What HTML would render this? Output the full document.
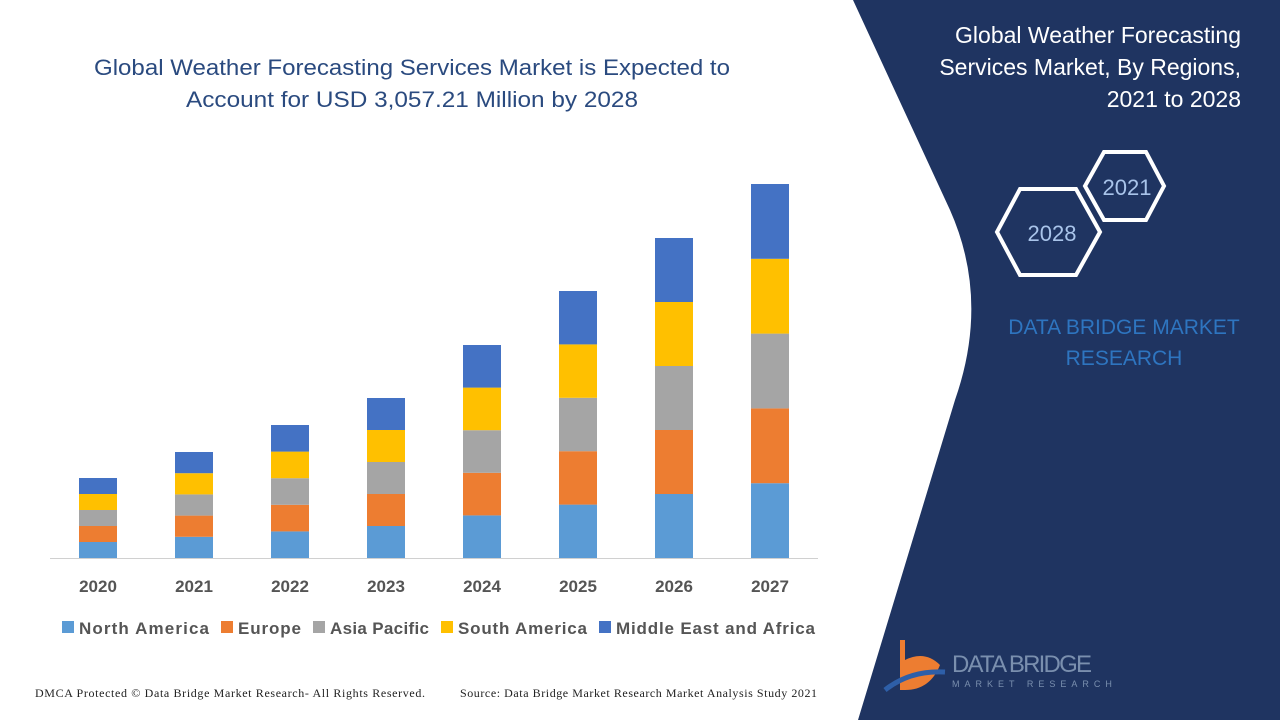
<!DOCTYPE html>
<html><head><meta charset="utf-8"><style>
body{margin:0;width:1280px;height:720px;overflow:hidden;background:#fff;font-family:"Liberation Sans",sans-serif}
</style></head><body>
<svg width="1280" height="720" xmlns="http://www.w3.org/2000/svg" style="position:absolute;left:0;top:0">
<rect width="1280" height="720" fill="#fff"/>
<path d="M853,0 L950,210 Q990,300 955,400 L858,720 L1280,720 L1280,0 Z" fill="#1f3461"/>
<g font-family="Liberation Sans, sans-serif">
<text x="412" y="75" text-anchor="middle" font-size="22" fill="#2a4a7f" textLength="636" lengthAdjust="spacingAndGlyphs">Global Weather Forecasting Services Market is Expected to</text>
<text x="412" y="107" text-anchor="middle" font-size="22" fill="#2a4a7f" textLength="452" lengthAdjust="spacingAndGlyphs">Account for USD 3,057.21 Million by 2028</text>
<line x1="50" y1="558.5" x2="818" y2="558.5" stroke="#d0d0d0"/>

<g>
<rect x="79" y="542" width="38" height="16" fill="#5b9bd5"/><rect x="79" y="526" width="38" height="16" fill="#ed7d31"/><rect x="79" y="510" width="38" height="16" fill="#a5a5a5"/><rect x="79" y="494" width="38" height="16" fill="#ffc000"/><rect x="79" y="478" width="38" height="16" fill="#4472c4"/>
<rect x="175" y="536.8" width="38" height="21.2" fill="#5b9bd5"/><rect x="175" y="515.6" width="38" height="21.2" fill="#ed7d31"/><rect x="175" y="494.4" width="38" height="21.2" fill="#a5a5a5"/><rect x="175" y="473.2" width="38" height="21.2" fill="#ffc000"/><rect x="175" y="452" width="38" height="21.2" fill="#4472c4"/>
<rect x="271" y="531.4" width="38" height="26.6" fill="#5b9bd5"/><rect x="271" y="504.8" width="38" height="26.6" fill="#ed7d31"/><rect x="271" y="478.2" width="38" height="26.6" fill="#a5a5a5"/><rect x="271" y="451.6" width="38" height="26.6" fill="#ffc000"/><rect x="271" y="425" width="38" height="26.6" fill="#4472c4"/>
<rect x="367" y="526" width="38" height="32" fill="#5b9bd5"/><rect x="367" y="494" width="38" height="32" fill="#ed7d31"/><rect x="367" y="462" width="38" height="32" fill="#a5a5a5"/><rect x="367" y="430" width="38" height="32" fill="#ffc000"/><rect x="367" y="398" width="38" height="32" fill="#4472c4"/>
<rect x="463" y="515.4" width="38" height="42.6" fill="#5b9bd5"/><rect x="463" y="472.8" width="38" height="42.6" fill="#ed7d31"/><rect x="463" y="430.2" width="38" height="42.6" fill="#a5a5a5"/><rect x="463" y="387.6" width="38" height="42.6" fill="#ffc000"/><rect x="463" y="345" width="38" height="42.6" fill="#4472c4"/>
<rect x="559" y="504.6" width="38" height="53.4" fill="#5b9bd5"/><rect x="559" y="451.2" width="38" height="53.4" fill="#ed7d31"/><rect x="559" y="397.8" width="38" height="53.4" fill="#a5a5a5"/><rect x="559" y="344.4" width="38" height="53.4" fill="#ffc000"/><rect x="559" y="291" width="38" height="53.4" fill="#4472c4"/>
<rect x="655" y="494" width="38" height="64" fill="#5b9bd5"/><rect x="655" y="430" width="38" height="64" fill="#ed7d31"/><rect x="655" y="366" width="38" height="64" fill="#a5a5a5"/><rect x="655" y="302" width="38" height="64" fill="#ffc000"/><rect x="655" y="238" width="38" height="64" fill="#4472c4"/>
<rect x="751" y="483.2" width="38" height="74.8" fill="#5b9bd5"/><rect x="751" y="408.4" width="38" height="74.8" fill="#ed7d31"/><rect x="751" y="333.6" width="38" height="74.8" fill="#a5a5a5"/><rect x="751" y="258.8" width="38" height="74.8" fill="#ffc000"/><rect x="751" y="184" width="38" height="74.8" fill="#4472c4"/>
</g>

<g font-size="17" font-weight="bold" fill="#555" text-anchor="middle">
<text x="98" y="592">2020</text><text x="194" y="592">2021</text><text x="290" y="592">2022</text><text x="386" y="592">2023</text><text x="482" y="592">2024</text><text x="578" y="592">2025</text><text x="674" y="592">2026</text><text x="770" y="592">2027</text>
</g>
<g font-size="17" font-weight="bold" fill="#555">
<rect x="62" y="621" width="12" height="12" fill="#5b9bd5"/><text x="79" y="634" textLength="130">North America</text>
<rect x="221" y="621" width="12" height="12" fill="#ed7d31"/><text x="238" y="634" textLength="63">Europe</text>
<rect x="313" y="621" width="12" height="12" fill="#a5a5a5"/><text x="330" y="634" textLength="99">Asia Pacific</text>
<rect x="441" y="621" width="12" height="12" fill="#ffc000"/><text x="458" y="634" textLength="129">South America</text>
<rect x="599" y="621" width="12" height="12" fill="#4472c4"/><text x="616" y="634" textLength="199">Middle East and Africa</text>
</g>
<text x="35" y="697" font-family="Liberation Serif, serif" font-size="12" fill="#222" textLength="390">DMCA Protected © Data Bridge Market Research- All Rights Reserved.</text>
<text x="460" y="697" font-family="Liberation Serif, serif" font-size="12" fill="#222" textLength="357">Source: Data Bridge Market Research Market Analysis Study 2021</text>
<g font-size="23" fill="#fff" text-anchor="end">
<text x="1241" y="43">Global Weather Forecasting</text>
<text x="1241" y="75">Services  Market, By Regions,</text>
<text x="1241" y="107">2021 to 2028</text>
</g>
<polygon points="1104,152 1146,152 1164,186 1146,220 1104,220 1085,186" fill="none" stroke="#fff" stroke-width="4"/>
<polygon points="1020,189 1076,189 1100,232 1076,275 1020,275 997,232" fill="none" stroke="#fff" stroke-width="4"/>
<text x="1127" y="195" text-anchor="middle" font-size="22" fill="#a9c4ea">2021</text>
<text x="1052" y="241" text-anchor="middle" font-size="22" fill="#a9c4ea">2028</text>
<text x="1124" y="334" text-anchor="middle" font-size="21" fill="#2e75c0">DATA BRIDGE MARKET</text>
<text x="1124" y="365" text-anchor="middle" font-size="21" fill="#2e75c0">RESEARCH</text>
<path d="M900,640 L905,640 L905,660 Q925,650 940,665 Q930,690 905,690 L900,690 Z" fill="#ed7d31"/>
<path d="M885,690 Q910,670 945,672" stroke="#2e5fa8" stroke-width="5" fill="none"/>
<text x="952" y="672" font-size="24" fill="#7a8fae" textLength="140">DATA BRIDGE</text>
<text x="952" y="687" font-size="9" fill="#7a8fae" letter-spacing="5">MARKET RESEARCH</text>
</g>
</svg>
</body></html>
